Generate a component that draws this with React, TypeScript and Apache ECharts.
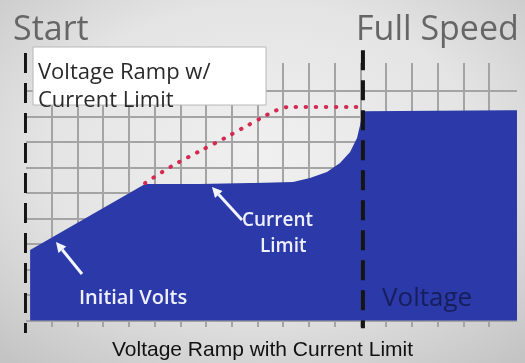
import React, { useEffect, useRef } from "react";
import * as echarts from "echarts";

// Grid units: x = one vertical grid cell, y = one horizontal grid cell
const voltageX = [0.16, 4.63, 6.77, 8.71, 10.38, 11.04, 11.7, 12.21, 12.6, 12.87, 12.99, 13.1, 19.09];
const voltageY = [2.76, 5.35, 5.35, 5.39, 5.43, 5.59, 5.82, 6.18, 6.61, 7.16, 7.67, 8.21, 8.25];
const rampX = [4.63, 5.68, 6.77, 7.74, 8.44, 9.14, 9.68, 10.19, 12.99];
const rampY = [5.39, 6.06, 6.65, 7.16, 7.55, 7.94, 8.22, 8.37, 8.37];
const startMarkerX = [-0.04, -0.04];
const startMarkerY = [10.49, -0.49];
const fullSpeedMarkerX = [13.1, 13.1];
const fullSpeedMarkerY = [10.6, -0.3];

const caption = "Voltage Ramp with Current Limit";

function zip(xs: number[], ys: number[]) {
  return xs.map((x, i) => [x, ys[i]]);
}

export default function App() {
  const ref = useRef<HTMLDivElement>(null);
  useEffect(() => {
    if (!ref.current) return;
    const chart = echarts.init(ref.current, null, { renderer: "svg" });
    const gridLine = { show: true, lineStyle: { color: "#a4a4a4", width: 2 } };
    const font = "'Open Sans', sans-serif";
    const txt = (text: string, x: number, y: number, size: number, fill: string, weight = "normal") => ({
      type: "text",
      z: 100,
      style: {
        text,
        x,
        y,
        fill,
        font: `${weight} ${size}px ${font}`,
        textAlign: "left",
        textVerticalAlign: "middle",
        align: "left",
        verticalAlign: "middle",
      },
    });
    chart.setOption({
      animation: false,
      backgroundColor: new echarts.graphic.RadialGradient(0.5, 0.42, 0.75, [
        { offset: 0, color: "#f0f0f0" },
        { offset: 0.55, color: "#e4e4e4" },
        { offset: 1, color: "#c4c4c4" },
      ]),
      title: {
        text: caption,
        left: "center",
        top: 333,
        textStyle: { fontFamily: "'Liberation Sans', Arial, sans-serif", fontSize: 21, fontWeight: "normal", color: "#111" },
      },
      grid: [
        { left: 51.7, right: 36, top: 63, bottom: 36 },
        { left: 26, right: 8, top: 91, bottom: 42.5 },
      ],
      xAxis: [
        {
          gridIndex: 0, type: "value", min: 1, max: 18, interval: 1,
          axisLine: { show: false }, axisTick: { show: false }, axisLabel: { show: false },
          splitLine: gridLine,
        },
        {
          gridIndex: 1, type: "value", min: 0, max: 19.09,
          axisLine: { show: false }, axisTick: { show: false }, axisLabel: { show: false },
          splitLine: { show: false },
        },
      ],
      yAxis: [
        {
          gridIndex: 0, type: "value", min: 0, max: 1,
          axisLine: { show: false }, axisTick: { show: false }, axisLabel: { show: false },
          splitLine: { show: false },
        },
        {
          gridIndex: 1, type: "value", min: 0, max: 9, interval: 1,
          axisLine: { show: false }, axisTick: { show: false }, axisLabel: { show: false },
          splitLine: gridLine,
        },
      ],
      series: [
        {
          type: "line",
          xAxisIndex: 1, yAxisIndex: 1,
          data: zip(voltageX, voltageY),
          symbol: "none",
          clip: false,
          lineStyle: { width: 0 },
          areaStyle: { color: "#2b3aa8", opacity: 1 },
          z: 3,
        },
        {
          type: "line",
          xAxisIndex: 1, yAxisIndex: 1,
          data: zip(rampX, rampY),
          symbol: "none",
          smooth: 0.3,
          lineStyle: { color: "#d42a52", width: 4, type: [0.5, 9.5], cap: "round" },
          z: 4,
        },
        {
          type: "line",
          xAxisIndex: 1, yAxisIndex: 1,
          data: zip(startMarkerX, startMarkerY),
          symbol: "none",
          clip: false,
          lineStyle: { color: "#151515", width: 4, type: [20, 10] },
          z: 5,
        },
        {
          type: "line",
          xAxisIndex: 1, yAxisIndex: 1,
          data: zip(fullSpeedMarkerX, fullSpeedMarkerY),
          symbol: "none",
          clip: false,
          lineStyle: { color: "#151515", width: 4, type: [20, 10] },
          z: 5,
        },
      ],
      graphic: [
        txt("Start", 13, 27, 34, "#666666", "500"),
        txt("Full Speed", 356, 27, 34, "#666666", "500"),
        {
          type: "rect",
          z: 99,
          shape: { x: 33, y: 47, width: 233, height: 58 },
          style: { fill: "#ffffff", stroke: "#b8b8b8", lineWidth: 1 },
        },
        txt("Voltage Ramp w/", 38, 70, 22, "#2a2a2a", "500"),
        txt("Current Limit", 38, 98, 22, "#2a2a2a", "500"),
        txt("Current", 242, 219, 19, "#eef0ff", "600"),
        txt("Limit", 260, 245, 19, "#eef0ff", "600"),
        txt("Initial Volts", 79, 296, 20, "#eef0ff", "600"),
        txt("Voltage", 382, 296, 26, "rgba(18,24,72,0.8)", "500"),
        {
          type: "line",
          z: 100,
          shape: { x1: 242, y1: 220, x2: 218.7, y2: 194.4 },
          style: { stroke: "#f4f6ff", lineWidth: 3 },
        },
        {
          type: "polygon",
          z: 100,
          shape: { points: [[212, 187], [222.5, 191], [215, 198]] },
          style: { fill: "#f4f6ff" },
        },
        {
          type: "line",
          z: 100,
          shape: { x1: 82, y1: 274, x2: 62.3, y2: 249.8 },
          style: { stroke: "#f4f6ff", lineWidth: 3 },
        },
        {
          type: "polygon",
          z: 100,
          shape: { points: [[56, 242], [66.3, 246.6], [58.4, 253]] },
          style: { fill: "#f4f6ff" },
        },
      ],
    });
    return () => chart.dispose();
  }, []);
  return <div ref={ref} style={{ position: "fixed", left: 0, top: 0, width: 525, height: 363 }} />;
}
